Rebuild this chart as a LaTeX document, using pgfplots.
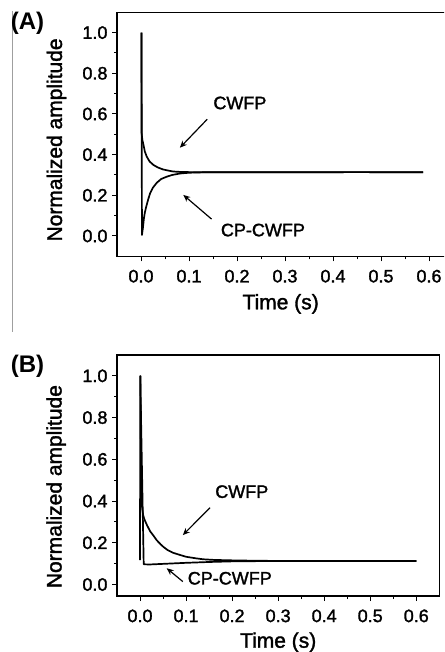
\documentclass[border=0pt]{standalone}
\usepackage{fontspec}
\setmainfont{Liberation Sans}
\newfontfamily\medfont{Liberation Sans}[FakeBold=1.6]
\usepackage{pgfplots}
\pgfplotsset{compat=1.18}
\usetikzlibrary{arrows.meta}

\tikzset{ann/.style={font=\medfont\fontsize{18}{20}\selectfont}}

\pgfplotsset{
  myax/.style={
    scale only axis,
    axis line style={line width=1.1pt},
    tick align=outside,
    tick pos=left,
    major tick length=5pt,
    minor tick length=3pt,
    tick style={black, line width=1pt},
    xmin=-0.05, xmax=0.65,
    xtick={0,0.1,0.2,0.3,0.4,0.5,0.6},
    ytick={0,0.2,0.4,0.6,0.8,1.0},
    minor x tick num=1,
    minor y tick num=1,
    /pgf/number format/fixed,
    /pgf/number format/fixed zerofill,
    /pgf/number format/precision=1,
    /pgf/number format/assume math mode=true,
    ticklabel style={font=\medfont\fontsize{18}{20}\selectfont},
    xticklabel style={yshift=-5pt},
    yticklabel style={xshift=-1pt},
    label style={font=\medfont\fontsize{21}{24}\selectfont},
    xlabel={Time (s)},
    ylabel={Normalized amplitude},
  },
  curve/.style={black, line width=1.7pt, line join=round},
}

\pgfplotstableread{
t v
0.001 1.0
0.0012 0.506
0.003 0.47
0.005 0.45
0.008 0.415
0.012 0.39
0.018 0.366
0.026 0.349
0.035 0.337
0.046 0.327
0.06 0.320
0.067 0.317
0.081 0.315
0.1 0.314
0.15 0.313
0.3 0.313
0.45 0.314
0.588 0.313
}\cwfpA

\pgfplotstableread{
t v
0.001 1.0
0.002 0.005
0.004 0.04
0.006 0.085
0.008 0.115
0.011 0.145
0.015 0.18
0.019 0.210
0.025 0.238
0.033 0.262
0.042 0.280
0.053 0.291
0.065 0.300
0.081 0.307
0.1 0.311
0.13 0.313
0.3 0.313
0.45 0.314
0.588 0.313
}\cpA

\pgfplotstableread{
t v
0.001 1.0
0.002 0.62
0.0025 0.45
0.003 0.55
0.004 0.38
0.005 0.36
0.007 0.33
0.010 0.31
0.015 0.285
0.022 0.255
0.030 0.232
0.036 0.213
0.045 0.192
0.051 0.180
0.060 0.165
0.072 0.152
0.085 0.143
0.100 0.133
0.120 0.126
0.137 0.121
0.160 0.118
0.195 0.116
0.250 0.114
0.300 0.113
0.600 0.113
}\cwfpB

\pgfplotstableread{
t v
0.000 0.117
0.0005 1.0
0.008 0.097
0.020 0.096
0.050 0.099
0.100 0.104
0.150 0.108
0.200 0.111
0.300 0.113
0.600 0.113
}\cpB

\begin{document}
\begin{tikzpicture}
\path[use as bounding box] (0,0) rectangle (444pt,652pt);
\clip (0,0) rectangle (444pt,652pt);

\draw[gray!75, line width=1.2pt] (12.3pt,641pt) -- (12.3pt,320pt);
\node[font=\bfseries\fontsize{24}{26}\selectfont] at (27.5pt,628.7pt) {(A)};
\node[font=\bfseries\fontsize{24}{26}\selectfont] at (27.5pt,285.3pt) {(B)};

% Panel A
\begin{axis}[myax,
  at={(117pt,395.7pt)}, anchor=south west,
  width=336pt, height=244pt,
  ymin=-0.1, ymax=1.1,
  xlabel style={at={(axis description cs:0.487,-0.195)}, anchor=center},
  ylabel style={at={(axis description cs:-0.18,0.477)}, anchor=center},
]
\addplot[curve] table[x=t,y=v] {\cwfpA};
\addplot[curve] table[x=t,y=v] {\cpA};
\node[ann] at (axis cs:0.206,0.654) {CWFP};
\node[ann] at (axis cs:0.254,0.029) {CP-CWFP};
\draw[line width=1.2pt, -{Stealth[length=7pt,width=6pt]}] (axis cs:0.138,0.574) -- (axis cs:0.081,0.434);
\draw[line width=1.2pt, -{Stealth[length=7pt,width=6pt]}] (axis cs:0.147,0.083) -- (axis cs:0.088,0.202);
\end{axis}

% Panel B
\begin{axis}[myax,
  at={(117pt,56pt)}, anchor=south west,
  width=322.3pt, height=241pt,
  ymin=-0.055, ymax=1.1,
  xlabel style={at={(axis description cs:0.5,-0.192)}, anchor=center},
  ylabel style={at={(axis description cs:-0.189,0.454)}, anchor=center},
]
\addplot[curve] table[x=t,y=v] {\cwfpB};
\addplot[curve] table[x=t,y=v] {\cpB};
\node[ann] at (axis cs:0.221,0.445) {CWFP};
\node[ann] at (axis cs:0.195,0.030) {CP-CWFP};
\draw[line width=1.2pt, -{Stealth[length=7pt,width=6pt]}] (axis cs:0.152,0.368) -- (axis cs:0.093,0.237);
\draw[line width=1.2pt, -{Stealth[length=7pt,width=6pt]}] (axis cs:0.093,0.014) -- (axis cs:0.058,0.078);
\end{axis}
\end{tikzpicture}
\end{document}
